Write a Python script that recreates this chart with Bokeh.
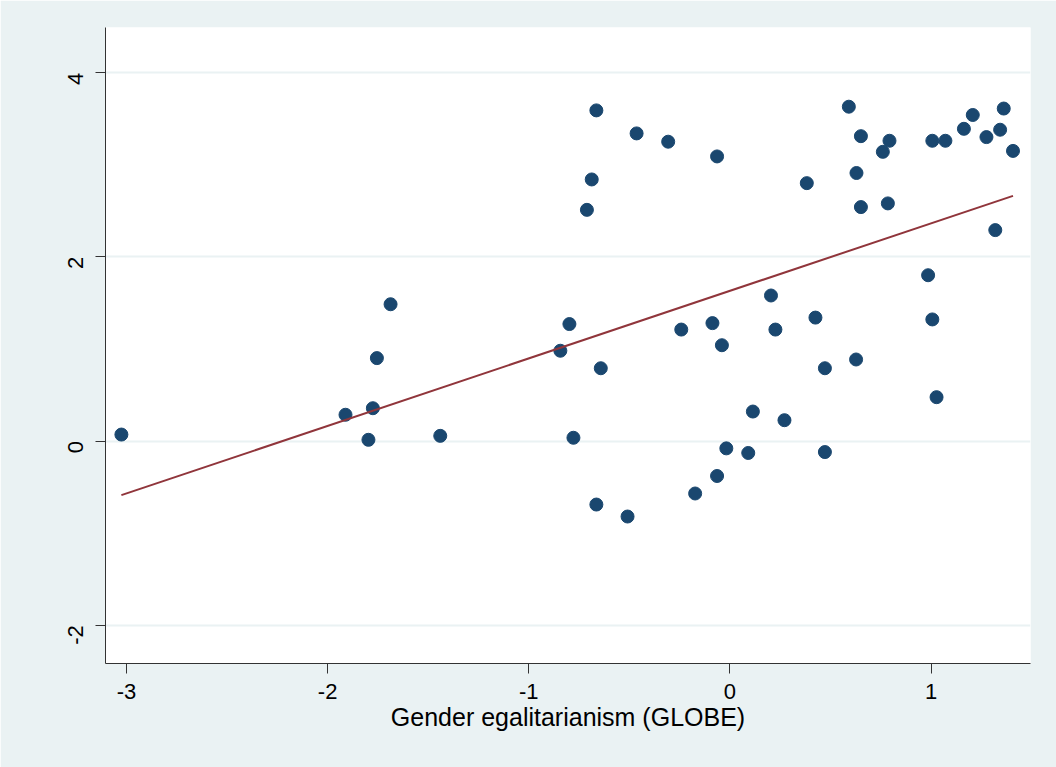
import math
import numpy as np
from bokeh.plotting import figure
from bokeh.models import FixedTicker, Range1d, CustomJSTickFormatter
from bokeh.embed import file_html
from bokeh.resources import INLINE

# Data
gender_egal = [-3.025, -1.911, -1.775, -1.755, -1.687, -1.797, -1.440,
               -0.843, -0.798, -0.778, -0.711, -0.687, -0.664, -0.642,
               -0.664, -0.509, -0.464, -0.307, -0.242, -0.173, -0.087,
               -0.064, -0.064, -0.040, -0.018, 0.091, 0.114, 0.204,
               0.226, 0.271, 0.382, 0.425, 0.472, 0.472, 0.591,
               0.629, 0.627, 0.651, 0.651, 0.760, 0.793, 0.785,
               0.985, 1.006, 1.006, 1.027, 1.071, 1.163, 1.207,
               1.275, 1.319, 1.343, 1.361, 1.407]
outcome = [0.07, 0.285, 0.356, 0.90, 1.485, 0.013, 0.056,
           0.98, 1.27, 0.035, 2.51, 2.84, 3.59, 0.79,
           -0.69, -0.82, 3.34, 3.25, 1.21, -0.57, 1.28,
           -0.38, 3.09, 1.04, -0.08, -0.13, 0.32, 1.58,
           1.21, 0.226, 2.80, 1.34, 0.79, -0.12, 3.63,
           2.91, 0.885, 3.31, 2.54, 3.14, 3.26, 2.58,
           1.80, 1.32, 3.26, 0.476, 3.26, 3.39, 3.54,
           3.30, 2.29, 3.38, 3.61, 3.15]
x_ticks = [-3, -2, -1, 0, 1]
y_ticks = [-2, 0, 2, 4]
x_title = "Gender egalitarianism (GLOBE)"

BG = "#EAF2F3"
NAVY = "#1A476F"
MAROON = "#90353B"
FONT = "Liberation Sans"

p = figure(width=1056, height=767, output_backend="svg", toolbar_location=None,
           x_range=Range1d(-3.104, 1.494), y_range=Range1d(-2.416, 4.49),
           min_border_left=105, min_border_right=26,
           min_border_top=27, min_border_bottom=104)
p.border_fill_color = BG
p.background_fill_color = "white"
p.outline_line_color = None

# fitted line (linear fit of the data)
slope, intercept = np.polyfit(gender_egal, outcome, 1)
xs = [min(gender_egal), max(gender_egal)]
ys = [intercept + slope * v for v in xs]

p.scatter(gender_egal, outcome, size=13, fill_color=NAVY, line_color=NAVY)
p.line(xs, ys, line_color=MAROON, line_width=2)

# grids
p.xgrid.visible = False
p.ygrid.ticker = FixedTicker(ticks=y_ticks)
p.ygrid.grid_line_color = BG
p.ygrid.grid_line_width = 2

hyphen_fmt = CustomJSTickFormatter(code="return String(Math.round(tick));")

# axes
for ax in (p.xaxis[0], p.yaxis[0]):
    ax.axis_line_color = "#333333"
    ax.major_tick_line_color = "#333333"
    ax.major_tick_out = 10
    ax.major_tick_in = 0
    ax.minor_tick_line_color = None
    ax.major_label_text_font = FONT
    ax.major_label_text_font_size = "22px"
    ax.major_label_text_color = "black"
    ax.formatter = hyphen_fmt

p.xaxis.ticker = FixedTicker(ticks=x_ticks)
p.yaxis.ticker = FixedTicker(ticks=y_ticks)
p.xaxis.major_label_standoff = 10
p.yaxis.major_label_standoff = 20
p.yaxis.major_label_orientation = math.pi / 2

p.xaxis.axis_label = x_title
p.xaxis.axis_label_text_font = FONT
p.xaxis.axis_label_text_font_size = "25px"
p.xaxis.axis_label_text_font_style = "normal"
p.xaxis.axis_label_text_color = "black"
p.xaxis.axis_label_standoff = 1

open("out.html", "w").write(file_html(p, INLINE))
